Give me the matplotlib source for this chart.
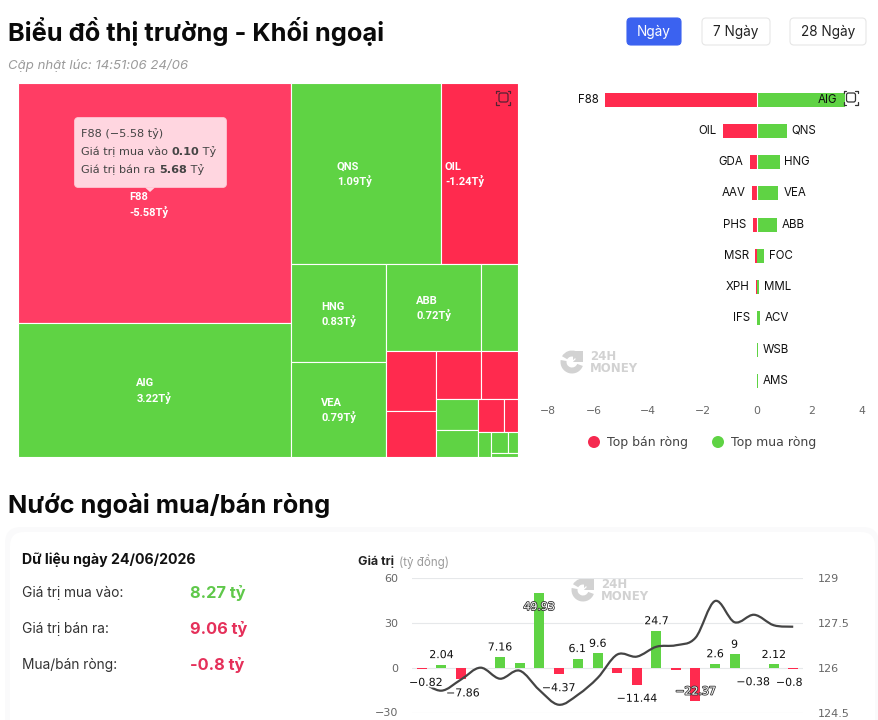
import matplotlib
matplotlib.use('Agg')
import matplotlib.pyplot as plt
import matplotlib.patheffects as pe
from matplotlib.path import Path
from matplotlib.patches import Rectangle, FancyBboxPatch, Circle, Wedge, PathPatch, Polygon

W, H = 879, 720
RED = '#FF2A4E'
RED_HOVER = '#FF3D64'
GREEN = '#5FD344'
TITLE_FONT = ['Inter', 'DejaVu Sans']
LABEL_FONT = ['Roboto', 'DejaVu Sans']

# ─── Treemap cells: gross traded value sets the area, sign of net value the colour
tree_names = ['F88', 'AIG', 'QNS', 'OIL', 'HNG', 'VEA', 'ABB', '', '', '', '', '', '', '', '', '', '', '', '', '']
tree_sizes = [5.68, 3.17, 2.36, 1.21, 0.81, 0.785, 0.71, 0.277, 0.26, 0.196, 0.19, 0.155,
              0.113, 0.099, 0.075, 0.04, 0.028, 0.031, 0.018, 0.009]
tree_net = [-5.58, 3.22, 1.09, -1.24, 0.83, 0.79, 0.72, 0.27, -0.26, -0.2, -0.19, -0.16,
            0.11, 0.1, -0.08, -0.04, 0.03, 0.03, 0.02, 0.01]
tree_strips = [(2, 'col'), (2, 'row'), (2, 'col'), (2, 'row'), (2, 'col'), (2, 'row'),
               (2, 'col'), (2, 'row'), (1, 'col'), (2, 'row'), (1, 'row')]

# ─── Top net sellers / buyers
sell_names = ['F88', 'OIL', 'GDA', 'AAV', 'PHS', 'MSR', 'XPH', 'IFS', '', '']
sell_values = [-5.58, -1.24, -0.26, -0.2, -0.16, -0.07, -0.05, -0.01, 0, 0]
buy_names = ['AIG', 'QNS', 'HNG', 'VEA', 'ABB', 'FOC', 'MML', 'ACV', 'WSB', 'AMS']
buy_values = [3.22, 1.09, 0.83, 0.79, 0.72, 0.25, 0.08, 0.1, 0.02, 0.02]
bar_ticks = [-8, -6, -4, -2, 0, 2, 4]

# ─── Daily foreign net flow and index line
net_flow = [-0.82, 2.04, -7.86, 0, 7.16, 2.9, 49.93, -4.37, 6.1, 9.6, -3.6, -11.44,
            24.7, -1.3, -22.37, 2.6, 9, -0.38, 2.12, -0.8]
flow_labels = ['-0.82', '2.04', '-7.86', '', '7.16', '', '49.93', '-4.37', '6.1', '9.6', '', '-11.44',
               '24.7', '', '-22.37', '2.6', '9', '-0.38', '2.12', '-0.8']
price = [125.53, 125.23, 125.6, 126.0, 125.63, 125.9, 125.26, 124.76, 125.1, 125.66, 126.44, 126.37,
         126.7, 126.75, 127.0, 128.23, 127.52, 127.77, 127.42, 127.37]
left_ticks = [-30, 0, 30, 60]
right_ticks = [124.5, 126, 127.5, 129]


def px_axes(fig, x0, y0, x1, y1, **kw):
    # axes placed by pixel box, y measured from the top of the figure
    return fig.add_axes([x0 / W, 1 - y1 / H, (x1 - x0) / W, (y1 - y0) / H], **kw)


def layout_strips(sizes, strips):
    # slice the unit box strip by strip, each strip takes its share of what is left
    x, y, w, h = 0.0, 0.0, 1.0, 1.0
    rects = []
    i = 0
    for count, kind in strips:
        chunk = sizes[i:i + count]
        left = sum(sizes[i:])
        share = sum(chunk) / left
        pos = 0.0
        for s in chunk:
            part = s / sum(chunk)
            if kind == 'col':
                rects.append((x, y + pos * h, w * share, part * h))
            else:
                rects.append((x + pos * w, y, part * w, h * share))
            pos += part
        if kind == 'col':
            x += w * share
            w -= w * share
        else:
            y += h * share
            h -= h * share
        i += count
    return rects


def focus_icon(ax, cx, cy, color):
    ax.add_patch(FancyBboxPatch((cx - 4.5, cy - 4.5), 9, 9, boxstyle='round,pad=0,rounding_size=2',
                                fc='none', ec=color, lw=0.9, zorder=20))
    r = 7
    t = 2.5
    for sx in (-1, 1):
        for sy in (-1, 1):
            ax.plot([cx + sx * (r - t), cx + sx * r, cx + sx * r],
                    [cy + sy * r, cy + sy * r, cy + sy * (r - t)],
                    color=color, lw=0.9, zorder=20, solid_capstyle='round')


def watermark(ax, cx, cy):
    grey = '#D2D2D2'
    # y runs downward here, so wedge angles go clockwise on screen
    ax.add_patch(Wedge((cx, cy), 11.5, 20, 190, width=6, fc=grey, ec='none'))
    ax.add_patch(Wedge((cx, cy), 11.5, 210, 290, width=6, fc=grey, ec='none'))
    ax.add_patch(Rectangle((cx + 1, cy - 11.5), 10.5, 11, fc=grey, ec='none'))
    ax.plot([cx - 3, cx + 3], [cy + 3, cy - 3], color='white', lw=0.9)
    ax.text(cx + 18, cy - 6, '24H', fontsize=8.5, fontweight='bold', color=grey, va='center', family='DejaVu Sans')
    ax.text(cx + 18, cy + 7, 'MONEY', fontsize=8.5, fontweight='bold', color=grey, va='center', family='DejaVu Sans')


def mixed_line(fig, ax, x, y, parts, **kw):
    # write regular and bold runs one after the other on the same baseline
    renderer = fig.canvas.get_renderer()
    for s, weight in parts:
        t = ax.text(x, y, s, fontweight=weight, va='center', ha='left', **kw)
        x = ax.transData.inverted().transform(t.get_window_extent(renderer).corners()[3])[0]


fig = plt.figure(figsize=(W / 100, H / 100), dpi=100, facecolor='white')

# background layer in pixel units
bg = fig.add_axes([0, 0, 1, 1], zorder=0)
bg.set_xlim(0, W)
bg.set_ylim(H, 0)
bg.axis('off')

bg.text(8, 32, 'Biểu đồ thị trường - Khối ngoại', fontsize=18.3, fontweight='bold', family=TITLE_FONT, va='center', color='#0A0A0A')
bg.text(8, 65, 'Cập nhật lúc: 14:51:06 24/06', fontsize=9.5, style='italic', family=TITLE_FONT, va='center', color='#9A9A9A')
bg.text(8, 505, 'Nước ngoài mua/bán ròng', fontsize=18.3, fontweight='bold', family=TITLE_FONT, va='center', color='#0A0A0A')

for x0, x1, text, active in [(627, 681, 'Ngày', True), (702, 770, '7 Ngày', False), (790, 866, '28 Ngày', False)]:
    bg.add_patch(FancyBboxPatch((x0, 18), x1 - x0, 27, boxstyle='round,pad=0,rounding_size=4',
                                fc='#3B62F0' if active else 'white', ec='#3B62F0' if active else '#E6E6E6', lw=0.8))
    bg.text((x0 + x1) / 2, 32, text, ha='center', va='center', fontsize=9.8, family=TITLE_FONT,
            color='white' if active else '#222222')

# card behind the lower section
bg.add_patch(FancyBboxPatch((5, 527), 874, 220, boxstyle='round,pad=0,rounding_size=16', fc='#FAFAFB', ec='none'))
bg.add_patch(FancyBboxPatch((10, 532), 865, 220, boxstyle='round,pad=0,rounding_size=14', fc='white', ec='none'))

bg.text(22, 560, 'Dữ liệu ngày 24/06/2026', fontsize=10.2, fontweight='bold', family=TITLE_FONT, va='center', color='#111111')
for y, name, val, col in [(593, 'Giá trị mua vào:', '8.27 tỷ', '#5FC84A'),
                          (629, 'Giá trị bán ra:', '9.06 tỷ', '#E5305A'),
                          (665, 'Mua/bán ròng:', '-0.8 tỷ', '#E5305A')]:
    bg.text(22, y, name, fontsize=9.9, family=TITLE_FONT, va='center', color='#333333')
    bg.text(190, y, val, fontsize=11.8, fontweight='bold', family=TITLE_FONT, va='center', color=col)

bg.text(358, 562, 'Giá trị', fontsize=9, fontweight='bold', family=TITLE_FONT, va='center', color='#222222')
bg.text(399, 562, '(tỷ đồng)', fontsize=8.3, family=TITLE_FONT, va='center', color='#9A9A9A')

watermark(bg, 572, 362)
watermark(bg, 583, 590)

# ─── Treemap
tm = px_axes(fig, 18.5, 83, 518, 457, zorder=1)
tm.set_xlim(0, 1)
tm.set_ylim(1, 0)
tm.axis('off')
rects = layout_strips(tree_sizes, tree_strips)
label_nudge = {'F88': (-6, 2), 'QNS': (-12, 1), 'OIL': (-15, 1), 'ABB': (0, 1), 'AIG': (-1, 1), 'HNG': (0, 1), 'VEA': (0, 1)}
for i, (x, y, w, h) in enumerate(rects):
    col = GREEN if tree_net[i] > 0 else RED
    if tree_names[i] == 'F88':
        col = RED_HOVER
    tm.add_patch(Rectangle((x, y), w, h, fc=col, ec='white', lw=0.8))
    if tree_names[i]:
        dx, dy = label_nudge[tree_names[i]]
        tm.annotate(f'{tree_names[i]}\n{tree_net[i]:.2f}Tỷ', (x + w / 2, y + h / 2), xytext=(dx * 0.72, -dy * 0.72),
                    textcoords='offset points', ha='center', va='center', multialignment='left',
                    fontsize=8, color='white', family=LABEL_FONT, linespacing=1.3, fontweight='bold')

# ─── Top sellers / buyers
bx = px_axes(fig, 539.4, 84, 865.8, 396.5, zorder=1)
bx.set_xlim(-8, 4)
bx.set_ylim(9.5, -0.5)
bx.patch.set_alpha(0)
for side in bx.spines.values():
    side.set_visible(False)
rows = list(range(len(buy_names)))
bx.barh(rows, sell_values, height=0.45, color=RED)
bx.barh(rows, buy_values, height=0.45, color=GREEN)
# thin white divider between the two sides of the wider rows
bx.vlines(0, -0.25, 4.25, color='white', lw=0.8, zorder=5)
for r in rows:
    if sell_names[r]:
        bx.annotate(sell_names[r], (sell_values[r], r), xytext=(-4.5, 0), textcoords='offset points',
                    ha='right', va='center', fontsize=8.3, family=TITLE_FONT, color='#111111')
    if buy_names[r] == 'AIG':
        # no room on the right of the longest bar, so the label sits inside it
        bx.annotate(buy_names[r], (buy_values[r], r), xytext=(-5, 0), textcoords='offset points',
                    ha='right', va='center', fontsize=8.3, family=TITLE_FONT, color='#111111')
    else:
        bx.annotate(buy_names[r], (buy_values[r], r), xytext=(3.5, 0), textcoords='offset points',
                    ha='left', va='center', fontsize=8.3, family=TITLE_FONT, color='#111111')
bx.set_yticks([])
bx.set_xticks(bar_ticks)
bx.set_xticklabels([str(t).replace('-', '−') for t in bar_ticks], fontsize=7.8, color='#666666')
bx.tick_params(axis='x', length=0, pad=7)
bx.get_xticklabels()[0].set_ha('left')
bx.get_xticklabels()[-1].set_ha('right')

# ─── Net flow bars with the index line on the right scale
ax = px_axes(fig, 412, 578, 803, 712.5, zorder=1)
ax.patch.set_alpha(0)
days = list(range(len(net_flow)))
ax.set_xlim(-0.5, len(net_flow) - 0.5)
ax.set_ylim(-30, 60)
ax.set_yticks(left_ticks)
ax.set_yticklabels([str(t).replace('-', '−') for t in left_ticks], fontsize=8, color='#666666')
ax.set_xticks([])
ax.tick_params(axis='y', length=0, pad=10)
ax.grid(axis='y', color='#E6E8EA', lw=0.8)
ax.set_axisbelow(True)
for side in ax.spines.values():
    side.set_visible(False)
ax.bar(days, net_flow, width=0.51, color=[GREEN if v > 0 else RED for v in net_flow])

ax2 = ax.twinx()
ax2.set_ylim(124.5, 129)
ax2.set_yticks(right_ticks)
ax2.set_yticklabels(['124.5', '126', '127.5', '129'], fontsize=8, color='#666666')
ax2.tick_params(axis='y', length=0, pad=11)
for side in ax2.spines.values():
    side.set_visible(False)

# smooth curve through the closes, tangents taken from the neighbouring points
k = 0.17
verts = [(days[0], price[0])]
codes = [Path.MOVETO]
for i in range(len(days) - 1):
    y_prev = price[max(i - 1, 0)]
    y_next = price[min(i + 2, len(days) - 1)]
    dx0 = 2 * k if i > 0 else k
    dx1 = 2 * k if i + 2 < len(days) else k
    verts += [(days[i] + dx0, price[i] + (price[i + 1] - y_prev) * k),
              (days[i + 1] - dx1, price[i + 1] - (y_next - price[i]) * k),
              (days[i + 1], price[i + 1])]
    codes += [Path.CURVE4, Path.CURVE4, Path.CURVE4]
ax2.add_patch(PathPatch(Path(verts, codes), fc='none', ec='#444444', lw=1.6))

flow_nudge = {'-0.82': (4, 0), '-7.86': (2, 0), '6.1': (-1, 0), '-0.8': (-4, 0), '-0.38': (-1, 0)}
for i, text in enumerate(flow_labels):
    if not text:
        continue
    val = net_flow[i]
    off = 9.5 if val > 0 else -14
    stroke = [pe.withStroke(linewidth=2.2, foreground='white')]
    col = '#111111'
    if text in ('49.93', '-22.37'):
        # tall bars keep their labels inside
        off = -14 if val > 0 else 9.5
        stroke = [pe.withStroke(linewidth=1.2, foreground='#333333')]
        col = 'white'
    dx, dy = flow_nudge.get(text, (0, 0))
    ax2.annotate(text.replace('-', '−'), (i, val), xycoords=ax.transData, xytext=(dx * 0.72, (off + dy) * 0.72),
                 textcoords='offset points', ha='center', va='center', fontsize=7.9, color=col,
                 family='DejaVu Sans', path_effects=stroke, annotation_clip=False, zorder=10)

# foreground layer: tooltip, icons, legend
fg = fig.add_axes([0, 0, 1, 1], zorder=5)
fg.set_xlim(0, W)
fg.set_ylim(H, 0)
fg.axis('off')
fg.patch.set_alpha(0)

fg.add_patch(FancyBboxPatch((74.5, 117.5), 152, 70, boxstyle='round,pad=0,rounding_size=4',
                            fc='#FFD6E0', ec='#FFC4D2', lw=0.6, zorder=15))
fg.add_patch(Polygon([(145, 187.5), (155, 187.5), (150, 192)], fc='#FFD6E0', ec='none', zorder=15))
tip_kw = dict(fontsize=8.1, color='#444444', family='DejaVu Sans', zorder=16)
fg.text(81, 134, 'F88 (−5.58 tỷ)', va='center', **tip_kw)
mixed_line(fig, fg, 81, 152, [('Giá trị mua vào ', 'normal'), ('0.10', 'bold'), (' Tỷ', 'normal')], **tip_kw)
mixed_line(fig, fg, 81, 170, [('Giá trị bán ra ', 'normal'), ('5.68', 'bold'), (' Tỷ', 'normal')], **tip_kw)

focus_icon(fg, 503.5, 97.5, '#552233')
focus_icon(fg, 851, 97.5, '#333333')

fg.add_patch(Circle((594, 442), 6, fc='#F5294F', ec='none'))
fg.text(607, 442.5, 'Top bán ròng', fontsize=9, family='DejaVu Sans', va='center', color='#444444')
fg.add_patch(Circle((718, 442), 6, fc=GREEN, ec='none'))
fg.text(731, 442.5, 'Top mua ròng', fontsize=9, family='DejaVu Sans', va='center', color='#444444')

plt.savefig('out.png', dpi=100)
plt.close(fig)
